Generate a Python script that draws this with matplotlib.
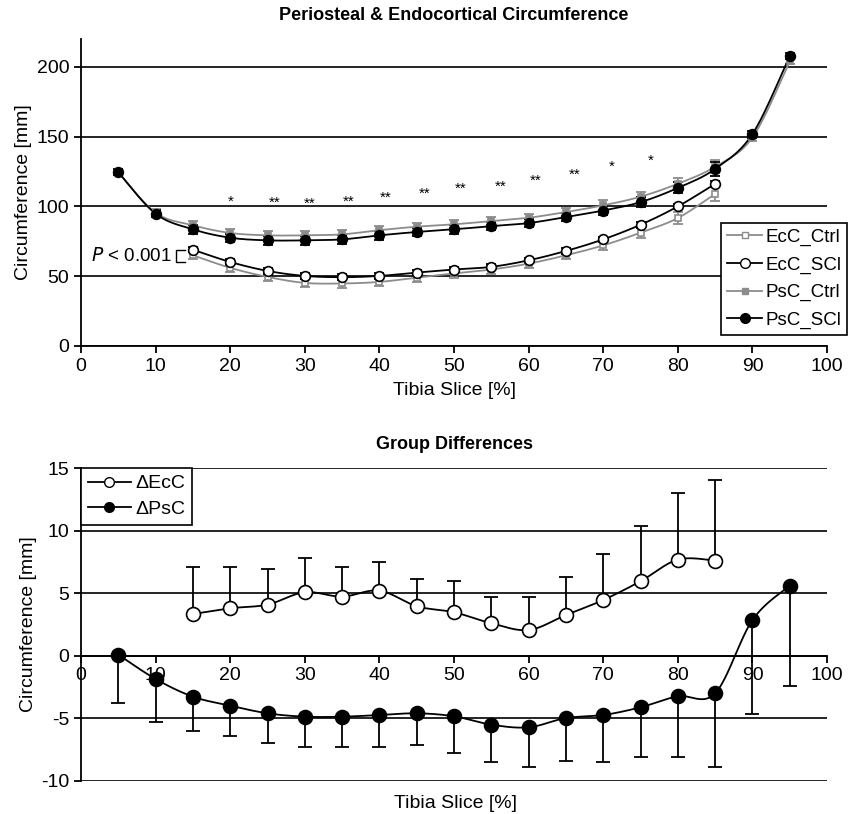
import numpy as np
import matplotlib
matplotlib.use("Agg")
from matplotlib import pyplot as plt
from matplotlib.lines import Line2D

plt.rcParams['font.family'] = ['Liberation Sans', 'DejaVu Sans']
plt.rcParams['axes.unicode_minus'] = False

# tibia slice positions [%]
slices = [5, 10, 15, 20, 25, 30, 35, 40, 45, 50, 55, 60, 65, 70, 75, 80, 85, 90, 95]
ec_slices = slices[2:17]

# periosteal circumference [mm]
psc_scl = [124.5, 94.8, 83.6, 77.6, 75.7, 75.7, 76.4, 79.3, 81.7, 83.6,
           85.9, 88.1, 92.4, 97.1, 103.1, 113.3, 126.9, 151.9, 207.9]
psc_ctrl = [124.5, 95.5, 86.5, 81.0, 79.3, 79.3, 80.0, 83.0, 85.5, 87.2,
            89.5, 91.9, 96.0, 100.8, 107.0, 116.3, 128.5, 149.5, 204.0]
psc_scl_sd = [2.0, 2.5, 3.0, 3.0, 3.0, 3.0, 3.0, 3.0, 3.0, 3.0,
              3.0, 3.0, 3.0, 3.5, 3.5, 4.0, 4.8, 2.5, 2.0]
psc_ctrl_sd = [2.0, 2.5, 3.0, 3.0, 3.0, 3.0, 3.0, 3.0, 3.0, 3.0,
               3.0, 3.0, 3.0, 3.5, 3.5, 4.0, 4.8, 2.5, 2.0]

# endocortical circumference [mm]
ecc_scl = [69.0, 60.2, 53.8, 50.2, 49.3, 50.2, 52.6, 54.8, 56.7, 61.4,
           68.1, 76.4, 86.9, 100.0, 116.2]
ecc_ctrl = [65.0, 56.0, 49.5, 45.2, 44.8, 45.9, 49.0, 52.0, 54.8, 59.0,
            65.0, 72.1, 81.2, 91.7, 109.0]
ecc_scl_sd = [2.0] * 15
ecc_ctrl_sd = [3.0, 3.0, 3.0, 3.0, 3.0, 3.0, 3.0, 3.0, 3.0, 3.0,
               3.0, 3.5, 4.0, 4.0, 5.0]

# significance marks
star_x = [20.1, 25.9, 30.6, 35.9, 40.9, 46.0, 50.9, 56.2, 60.9, 66.2, 71.2, 76.4]
star_y = [103.6, 102.4, 102.0, 103.6, 106.0, 109.0, 112.6, 114.3, 118.6, 122.6, 128.6, 132.9]
star_txt = ['*', '**', '**', '**', '**', '**', '**', '**', '**', '**', '*', '*']

# group differences [mm]
d_ecc = [3.33, 3.79, 4.08, 5.07, 4.72, 5.2, 3.95, 3.47, 2.59, 2.05,
         3.25, 4.45, 5.95, 7.68, 7.6]
d_ecc_sd = [3.74, 3.28, 2.85, 2.72, 2.4, 2.32, 2.18, 2.53, 2.08, 2.62,
            3.02, 3.68, 4.4, 5.32, 6.48]
d_psc = [0.08, -1.87, -3.28, -4.0, -4.61, -4.88, -4.88, -4.75, -4.61, -4.85,
         -5.52, -5.73, -4.99, -4.75, -4.13, -3.25, -3.01, 2.85, 5.6]
d_psc_sd = [3.89, 3.41, 2.77, 2.4, 2.4, 2.4, 2.4, 2.53, 2.54, 2.96,
            3.01, 3.15, 3.41, 3.78, 4.0, 4.88, 5.87, 7.52, 8.0]

GRAY = '#8c8c8c'
FS = 14


def smooth(x, y, n=24):
    # catmull-rom curve through the points (excel style smoothed line)
    pts = np.column_stack([np.asarray(x, float), np.asarray(y, float)])
    p = np.vstack([pts[0], pts, pts[-1]])
    t = np.linspace(0, 1, n, endpoint=False)[:, None]
    segs = []
    for i in range(1, len(p) - 2):
        p0, p1, p2, p3 = p[i - 1], p[i], p[i + 1], p[i + 2]
        seg = 0.5 * (2 * p1 + (-p0 + p2) * t + (2 * p0 - 5 * p1 + 4 * p2 - p3) * t ** 2
                     + (-p0 + 3 * p1 - 3 * p2 + p3) * t ** 3)
        segs.append(seg)
    segs.append(pts[-1:])
    c = np.vstack(segs)
    return c[:, 0], c[:, 1]


def series(ax, x, y, err, color, marker, mfc, ms, lw=1.3, side='both', cap=3.5):
    sx, sy = smooth(x, y)
    ax.plot(sx, sy, color=color, lw=lw, zorder=3)
    if side == 'both':
        yerr = err
    elif side == 'up':
        yerr = [np.zeros(len(err)), err]
    else:
        yerr = [err, np.zeros(len(err))]
    ax.errorbar(x, y, yerr=yerr, fmt='none', ecolor=color, elinewidth=1.3,
                capsize=cap, capthick=1.3, zorder=2)
    ax.plot(x, y, ls='none', marker=marker, mfc=mfc, mec=color, ms=ms, mew=1.2, zorder=4)


fig = plt.figure(figsize=(8.5, 8.14), dpi=100)

# ---------------- top panel
ax1 = fig.add_axes([0.0953, 0.575, 0.8777, 0.377])
series(ax1, ec_slices, ecc_ctrl, ecc_ctrl_sd, GRAY, 's', 'white', 4)
series(ax1, slices, psc_ctrl, psc_ctrl_sd, GRAY, 's', GRAY, 4)
series(ax1, ec_slices, ecc_scl, ecc_scl_sd, 'black', 'o', 'white', 7)
series(ax1, slices, psc_scl, psc_scl_sd, 'black', 'o', 'black', 7)

for sx_, sy_, st in zip(star_x, star_y, star_txt):
    ax1.text(sx_, sy_, st, ha='center', va='center', fontsize=11)

ax1.text(1.3, 64.3, '$P$ < 0.001', fontsize=13.5, ha='left', va='center')
ax1.plot([13.9, 12.7, 12.7, 13.9], [68.6, 68.6, 60.0, 60.0], color='black', lw=1.0)

ax1.set_xlim(0, 100)
ax1.set_ylim(0, 220)
ax1.set_xticks(range(0, 101, 10))
ax1.set_yticks(range(0, 201, 50))
ax1.yaxis.grid(True, color='black', lw=1.2)
ax1.set_axisbelow(True)
for s in ['top', 'right']:
    ax1.spines[s].set_visible(False)
ax1.spines['left'].set_linewidth(1.3)
ax1.spines['bottom'].set_linewidth(1.3)
ax1.tick_params(labelsize=FS, width=1.3, length=5, direction='out')
ax1.set_title('Periosteal & Endocortical Circumference', fontsize=13, fontweight='bold', pad=14)
ax1.set_xlabel('Tibia Slice [%]', fontsize=FS, labelpad=5)
ax1.set_ylabel('Circumference [mm]', fontsize=FS, labelpad=3)

h1 = [Line2D([], [], color=GRAY, lw=1.3, marker='s', mfc='white', mec=GRAY, ms=4),
      Line2D([], [], color='black', lw=1.3, marker='o', mfc='white', mec='black', ms=7),
      Line2D([], [], color=GRAY, lw=1.3, marker='s', mfc=GRAY, mec=GRAY, ms=4),
      Line2D([], [], color='black', lw=1.3, marker='o', mfc='black', mec='black', ms=7)]
leg1 = ax1.legend(h1, ['EcC_Ctrl', 'EcC_SCl', 'PsC_Ctrl', 'PsC_SCl'],
                  loc='upper left', bbox_to_anchor=(0.858, 0.40), fontsize=13.5,
                  fancybox=False, edgecolor='black', framealpha=1,
                  handlelength=1.9, handletextpad=0.15, labelspacing=0.55,
                  borderpad=0.3, borderaxespad=0)
leg1.get_frame().set_linewidth(1.2)

# ---------------- bottom panel
ax2 = fig.add_axes([0.0953, 0.0409, 0.8777, 0.3841])
series(ax2, ec_slices, d_ecc, d_ecc_sd, 'black', 'o', 'white', 10, side='up', cap=5)
series(ax2, slices, d_psc, d_psc_sd, 'black', 'o', 'black', 10, side='down', cap=5)

ax2.set_xlim(0, 100)
ax2.set_ylim(-10, 15)
ax2.set_xticks(range(0, 101, 10))
ax2.set_yticks(range(-10, 16, 5))
ax2.yaxis.grid(True, color='black', lw=1.2)
ax2.set_axisbelow(True)
for s in ['top', 'right']:
    ax2.spines[s].set_visible(False)
ax2.spines['bottom'].set_position(('data', 0))
ax2.spines['left'].set_linewidth(1.3)
ax2.spines['bottom'].set_linewidth(1.3)
ax2.tick_params(labelsize=FS, width=1.3, length=5, direction='out')
ax2.set_title('Group Differences', fontsize=13, fontweight='bold', pad=14)
ax2.set_ylabel('Circumference [mm]', fontsize=FS, labelpad=3)
fig.text(0.5364, 1 - 803 / 814, 'Tibia Slice [%]', fontsize=FS, ha='center', va='center')

h2 = [Line2D([], [], color='black', lw=1.3, marker='o', mfc='white', mec='black', ms=7),
      Line2D([], [], color='black', lw=1.3, marker='o', mfc='black', mec='black', ms=7)]
leg2 = ax2.legend(h2, ['\u0394EcC', '\u0394PsC'], loc='upper left', bbox_to_anchor=(0, 1),
                  fontsize=FS, fancybox=False, edgecolor='black', framealpha=1,
                  handlelength=2.2, handletextpad=0.25, labelspacing=0.4,
                  borderpad=0.35, borderaxespad=0)
leg2.get_frame().set_linewidth(1.2)

fig.savefig('out.png', dpi=100)
